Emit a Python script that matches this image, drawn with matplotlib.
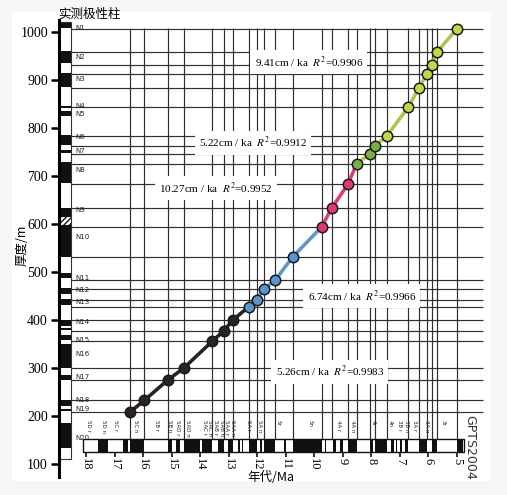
import matplotlib
matplotlib.use("Agg")
import matplotlib.pyplot as plt
from matplotlib.patches import Rectangle

plt.rcParams['font.family'] = ['Liberation Serif', 'Noto Sans CJK SC']
plt.rcParams['mathtext.fontset'] = 'stix'

# tie points: age (Ma) vs thickness (m), one list per rate segment
black_age = [16.46, 15.95, 15.13, 14.57, 13.57, 13.18, 12.85]
black_depth = [208, 233, 275, 300, 356, 377, 400]
blue_age = [12.29, 12.02, 11.76, 11.37, 10.76]
blue_depth = [428, 442, 465, 483, 531]
red_age = [9.74, 9.39, 8.82]
red_depth = [594, 633, 683]
green_age = [8.51, 8.05, 7.87, 7.46, 6.71, 6.33, 6.06, 5.89, 5.69, 5.01]
green_depth = [726, 746, 763, 783, 843, 883, 912, 931, 959, 1006]

# measured polarity column, normal intervals (top, bottom) in m
col_normal = [(1018, 1009), (960, 935), (914, 885), (846, 841), (835, 826),
              (785, 765), (754, 747), (730, 685), (634, 614), (598, 531),
              (498, 487), (466, 454), (444, 431), (400, 387), (383, 380),
              (369, 358), (350, 300), (285, 276), (233, 220), (214, 211),
              (185, 133)]
col_hatch = (614, 598)
col_names = ['N1', 'N2', 'N3', 'N4', 'N5', 'N6', 'N7', 'N8', 'N9', 'N10',
             'N11', 'N12', 'N13', 'N14', 'N15', 'N16', 'N17', 'N18', 'N19', 'N20']
col_name_depth = [1008, 948, 902, 846, 829, 781, 752, 712, 629, 573,
                  487, 462, 437, 396, 358, 329, 281, 233, 215, 154]

# GPTS2004 normal chrons (old, young) in Ma
gpts_normal = [(17.57, 17.22), (16.69, 16.52), (16.46, 15.97), (15.13, 14.97),
               (14.85, 14.71), (14.57, 14.02), (13.92, 13.57), (13.38, 13.18),
               (13.02, 12.85), (12.66, 12.60), (12.54, 12.49), (12.29, 12.02),
               (11.90, 11.84), (11.76, 11.37), (11.05, 10.99), (10.76, 9.74),
               (9.64, 9.58), (9.36, 9.25), (9.10, 8.99), (8.82, 8.51),
               (8.05, 7.95), (7.87, 7.46), (7.32, 7.21), (7.15, 7.11),
               (7.00, 6.94), (6.82, 6.71), (6.33, 6.06), (5.89, 5.69), (5.01, 4.80)]
chron_names = ['5D r', '5D n', '5C r', '5C n', '5B r', '5B n', '5AD r', '5AD n',
               '5AC r', '5AC n', '5AB r', '5AB n', '5AA r', '5AA n', '5A r',
               '5A n', '5r', '5n', '4A r', '4A n', '4r', '4n', '3B r', '3B n',
               '3A r', '3A n', '3r']
chron_age = [17.92, 17.39, 16.98, 16.28, 15.52, 15.08, 14.80, 14.45,
             13.86, 13.66, 13.46, 13.26, 13.06, 12.86, 12.31,
             11.93, 11.26, 10.15, 9.16, 8.65, 7.93, 7.35, 7.02, 6.78,
             6.47, 6.06, 5.48]
age_ticks = list(range(5, 19))

rate_labels = ['9.41cm / ka  $R^2$=0.9906', '5.22cm / ka  $R^2$=0.9912',
               '10.27cm / ka  $R^2$=0.9952', '6.74cm / ka  $R^2$=0.9966',
               '5.26cm / ka  $R^2$=0.9983']
rate_age = [10.19, 12.15, 13.44, 8.33, 9.45]
rate_depth = [937, 769, 675, 450, 292]

fig = plt.figure(figsize=(5.07, 4.95), dpi=100, facecolor='#f6f6f6')
fig.patches.append(Rectangle((12 / 507, 15 / 495), 478 / 507, 468 / 495,
                             transform=fig.transFigure, color='white', zorder=-5))
ax = fig.add_axes([59 / 507, 18 / 495, 441 / 507, 457 / 495])
ax.set_zorder(2)
ax.set_facecolor('none')
ax.set_xlim(18.946, 3.49)
ax.set_ylim(72.9, 1025)

for s in ['top', 'right', 'bottom']:
    ax.spines[s].set_visible(False)
ax.spines['left'].set_linewidth(2.2)
ax.set_xticks([])
ax.set_yticks(range(100, 1001, 100))
ax.tick_params(axis='y', length=6, width=1.8, labelsize=10, pad=2)

# grid lines through the tie points
all_age = black_age + blue_age + red_age + green_age
all_depth = black_depth + blue_depth + red_depth + green_depth
ax.hlines(all_depth, 18.525, 4.07, color='#2e2e2e', lw=0.85, zorder=1)
ax.vlines(all_age, 152, 1008, color='#2e2e2e', lw=0.85, zorder=1)

# measured polarity column
yt = ax.get_yaxis_transform()
ax.add_patch(Rectangle((0, 110), 0.027, 910, transform=yt, fc='white',
                       ec='#333333', lw=0.8, zorder=2))
for top, bot in col_normal:
    ax.add_patch(Rectangle((0, bot), 0.027, top - bot, transform=yt,
                           fc='#111111', ec='none', zorder=2))
ax.add_patch(Rectangle((0, col_hatch[1]), 0.027, col_hatch[0] - col_hatch[1],
                       transform=yt, fc='white', ec='#111111', lw=0,
                       hatch='//////', zorder=2))
for name, d in zip(col_names, col_name_depth):
    ax.text(0.036, d, name, transform=yt, fontsize=5, va='center',
            family='DejaVu Sans', color='#222222', zorder=2)
fig.text(89 / 507, 1 - 14 / 495, '实测极性柱', fontsize=9, ha='center',
         va='center', family='Noto Sans CJK SC')

# GPTS bar
ax.add_patch(Rectangle((18.1, 125), 4.75 - 18.1, 27, fc='white',
                       ec='#111111', lw=1, zorder=2))
for old, young in gpts_normal:
    ax.add_patch(Rectangle((old, 125), young - old, 27, fc='#111111',
                           ec='none', zorder=2))
for name, a in zip(chron_names, chron_age):
    ax.text(a, 192, name, rotation=-90, fontsize=4, ha='center', va='top',
            family='DejaVu Sans', color='#222222', zorder=2)
ax.vlines(age_ticks, 114, 125, color='#111111', lw=1.2, zorder=2)
for a in age_ticks:
    ax.text(a, 113, str(a), rotation=-90, fontsize=9, ha='center', va='top')
ax.text(4.54, 135, 'GPTS2004', rotation=-90, fontsize=9, ha='center',
        va='center', family='DejaVu Sans', color='#333333')

# age-depth curve
groups = [(black_age, black_depth, '#2b2222', '#2b2222'),
          (blue_age, blue_depth, '#6196c8', '#5b95cc'),
          (red_age, red_depth, '#d9426f', '#e03a6c'),
          (green_age, green_depth, '#a9c84c', '#c2d84a')]
for i, (ag, dp, lc, mc) in enumerate(groups):
    xs, ys = list(ag), list(dp)
    if i + 1 < len(groups):
        xs.append(groups[i + 1][0][0])
        ys.append(groups[i + 1][1][0])
    ax.plot(xs, ys, color=lc, lw=2.6, zorder=4, solid_capstyle='round')
for i, (ag, dp, lc, mc) in enumerate(groups):
    fills = [mc] * len(ag)
    if i == 3:
        fills[:3] = ['#7aae45'] * 3
    for a, d, f in zip(ag, dp, fills):
        ax.plot(a, d, 'o', ms=7.5, mfc=f, mec='#1a1a1a', mew=1.1, zorder=5)

for t, a, d in zip(rate_labels, rate_age, rate_depth):
    ax.text(a, d, t, fontsize=8, ha='center', va='center', zorder=3,
            bbox=dict(fc='white', ec='none', pad=3))

fig.text(1 / 507 * 271, 1 - 477 / 495, '年代/Ma', fontsize=9, ha='center',
         va='center', family=['Noto Sans CJK SC', 'Liberation Serif'])
fig.text(22 / 507, 1 - 245 / 495, '厚度/m', fontsize=9, rotation=90,
         ha='center', va='center', family=['Noto Sans CJK SC', 'Liberation Serif'])

fig.savefig('out.png', dpi=100, facecolor=fig.get_facecolor())
